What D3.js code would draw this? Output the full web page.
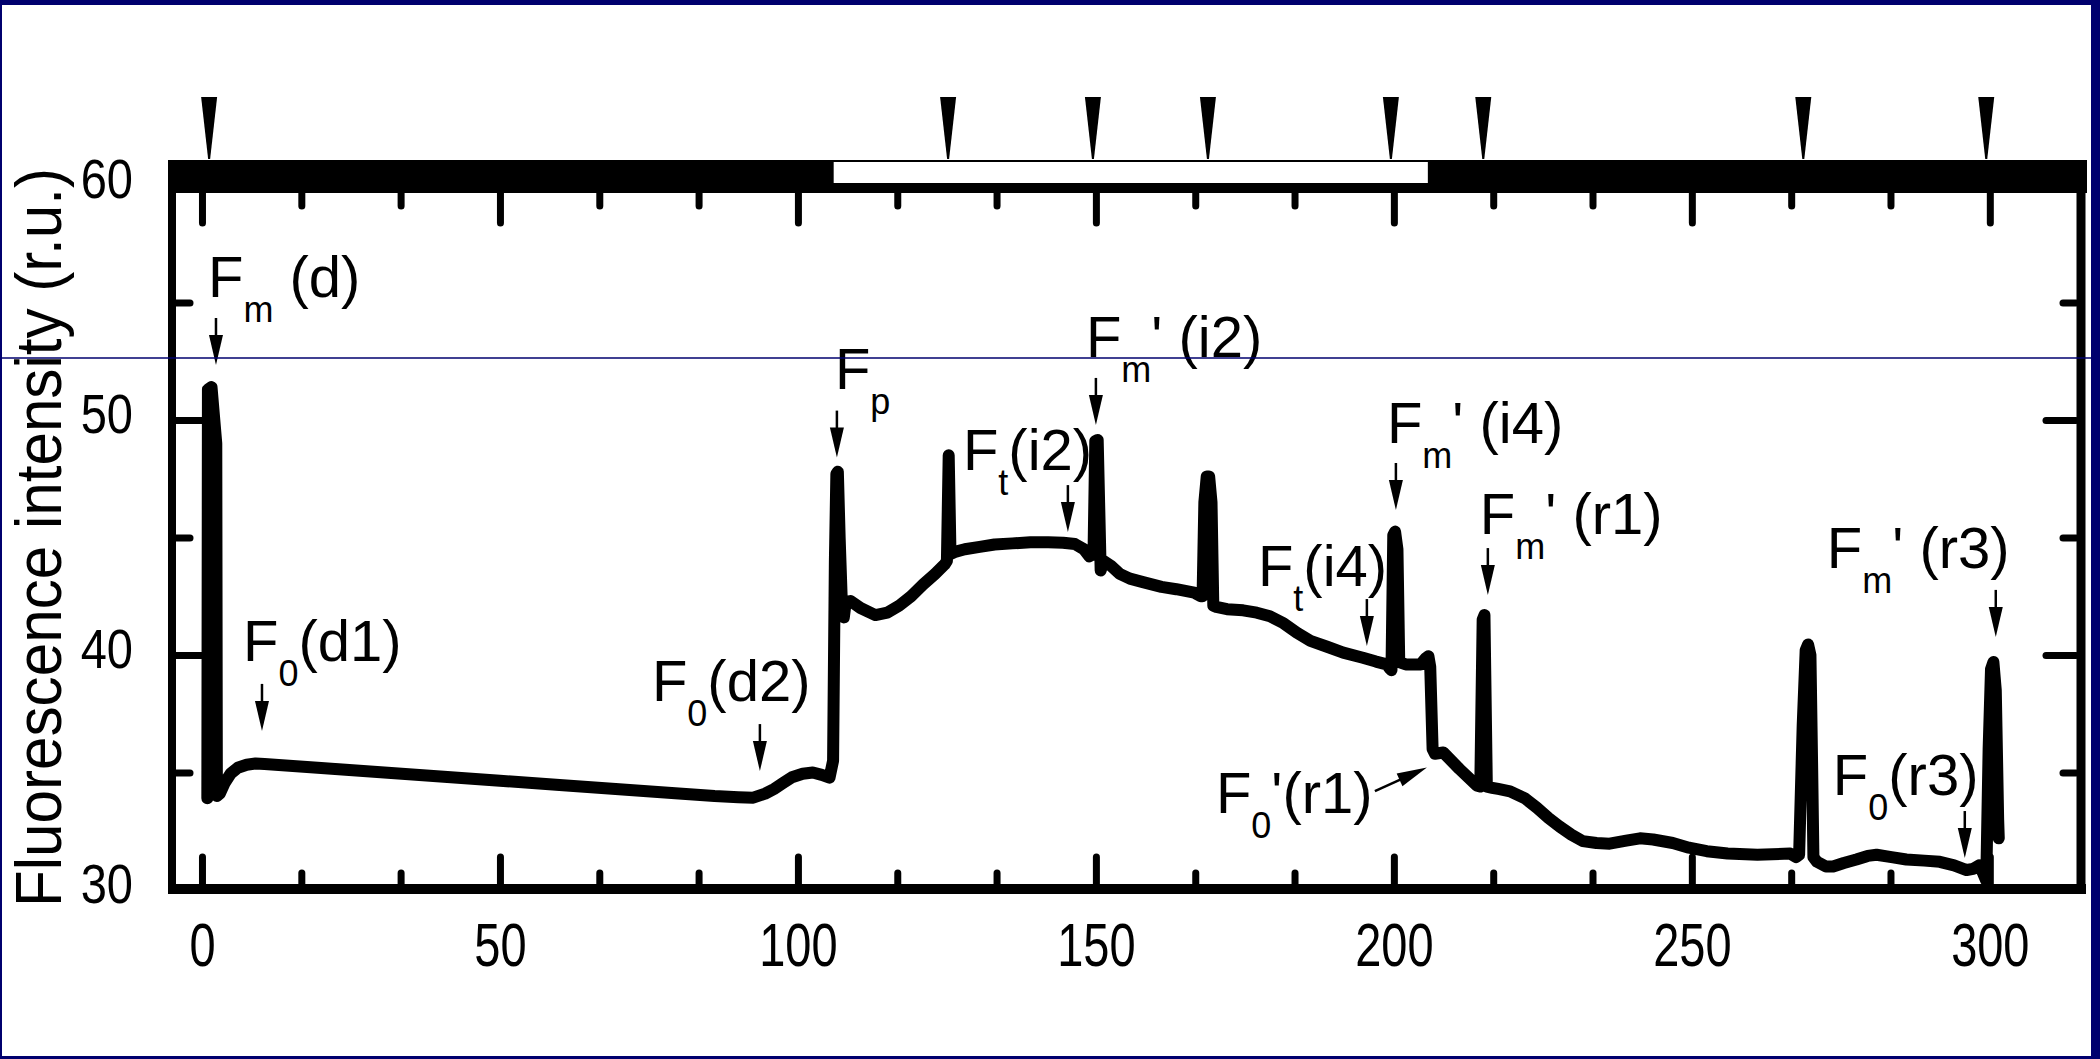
<!DOCTYPE html>
<html>
<head>
<meta charset="utf-8">
<script src="https://cdn.jsdelivr.net/npm/d3@7"></script>
<style>
  body { margin: 0; background: #fff; }
  svg { display: block; font-family: "Liberation Sans", Arial, sans-serif; }
  text { white-space: pre; }
</style>
</head>
<body>
<svg id="chart"></svg>
<script>
var width = 2100, height = 1059;
var navy = "#00006e";

// trace: time (s) and fluorescence (r.u.)
var time = [0.9, 1.0, 1.6, 2.4, 2.5, 3.0, 3.8, 4.8, 6.0, 7.5, 9.0, 10.5,
  20, 30, 40, 50, 60, 70, 80, 86, 90, 92.5, 94.5, 96, 97.5, 99, 100.8, 102.5, 104, 105.3,
  105.9, 106.2, 106.45, 106.7, 107.0, 107.4, 107.7, 108.0, 108.8, 110.5, 113, 115, 117, 119, 121, 123, 124.6,
  125.0, 125.3, 125.6, 126.5, 128, 130.5, 133, 136, 139, 142, 144.5, 146.5, 148, 148.9,
  149.6, 149.9, 150.3, 150.8, 151.3, 152.5, 154, 155.7, 157.9, 161, 163.5, 166.5, 167.6,
  167.9, 168.2, 168.6, 169.0, 169.4, 169.7, 170.2, 172, 174.7, 177, 179.2, 181.5, 183.7, 186, 188.8, 191.5, 194.8, 197, 198.8, 199.4,
  199.6, 199.9, 200.2, 200.6, 200.9, 202, 204.5, 205.3, 205.8, 206.1, 206.5, 206.9, 208.3, 211, 213.9,
  214.5, 214.9, 215.2, 215.6, 216.5, 217.5, 219.5, 222, 224, 226, 227.8, 229.8, 231.7, 234, 236.2, 239, 241.3, 243.5, 246.8, 249.5, 252.5, 256, 261, 266.5, 267.5,
  268.0, 268.6, 269.1, 269.5, 269.9, 270.2, 270.4, 271, 272.5, 273.7, 275.5, 277.6, 279.5, 281, 283.5, 286, 289, 291.6, 294, 296.1, 297.2, 298.2,
  298.9, 299.4, 299.8, 300.2, 300.6, 301.0, 301.4, 301.5];
var fluor = [33.9, 51.3, 51.4, 49.0, 34.0, 34.1, 34.55, 34.95, 35.2, 35.33, 35.38, 35.36,
  35.19, 35.01, 34.83, 34.65, 34.47, 34.29, 34.11, 34.0, 33.95, 33.93, 34.1, 34.3, 34.55, 34.8, 34.95, 35.0, 34.9, 34.78,
  35.5, 44.0, 47.7, 47.8, 45.0, 42.0, 41.6, 42.2, 42.3, 42.0, 41.7, 41.8, 42.1, 42.5, 43.0, 43.45, 43.85,
  44.0, 48.5, 44.3, 44.4, 44.5, 44.6, 44.7, 44.75, 44.8, 44.8, 44.78, 44.72, 44.5, 44.2,
  44.3, 49.1, 49.15, 43.6, 44.0, 43.8, 43.45, 43.25, 43.1, 42.9, 42.8, 42.65, 42.5,
  42.5, 46.5, 47.6, 47.6, 46.5, 42.1, 42.05, 41.95, 41.9, 41.8, 41.65, 41.35, 40.95, 40.6, 40.35, 40.1, 39.88, 39.72, 39.6, 39.4,
  39.35, 45.1, 45.25, 44.5, 39.7, 39.6, 39.6, 39.85, 39.95, 39.5, 36.0, 35.8, 35.85, 35.15, 34.45,
  34.4, 41.5, 41.7, 34.4, 34.35, 34.3, 34.2, 33.9, 33.5, 33.05, 32.7, 32.35, 32.08, 32.0, 31.97, 32.1, 32.2, 32.15, 32.0, 31.8, 31.65, 31.55, 31.5, 31.55, 31.4,
  31.5, 37.0, 40.2, 40.45, 40.0, 35.0, 31.4, 31.2, 31.0, 31.0, 31.15, 31.3, 31.45, 31.5, 31.4, 31.3, 31.25, 31.2, 31.05, 30.85, 30.9, 31.05,
  30.7, 30.4, 36.0, 39.4, 39.7, 38.5, 33.0, 32.2];

var xMajor = [0, 50, 100, 150, 200, 250, 300];
var xMinor = [16.67, 33.33, 66.67, 83.33, 116.67, 133.33, 166.67, 183.33, 216.67, 233.33, 266.67, 283.33];
var yMajor = [30, 40, 50, 60];
var yMinor = [35, 45, 55];

// saturating pulses (triangles above the bar) and the light period (white part of the bar)
var pulses = [1.2, 125.2, 149.5, 168.8, 199.5, 215.0, 268.7, 299.4];
var lightPeriod = [106, 205.7];

// annotations: F + subscript + rest, arrow tip in data units
var annMain = ["F", "F", "F", "F", "F", "F", "F", "F", "F", "F", "F", "F"];
var annSub = ["m", "0", "0", "p", "m", "t", "m", "t", "m", "0", "m", "0"];
var annRest = [" (d)", "(d1)", "(d2)", "", "' (i2)", "(i2)", "' (i4)", "(i4)", "' (r1)", "'(r1)", "' (r3)", "(r3)"];
var annTime = [2.35, 10.07, 93.62, 106.54, 150.0, 145.3, 200.34, 195.47, 215.77, 205.54, 301.0, 295.8];
var annValue = [52.34, 36.77, 35.06, 48.4, 49.79, 45.23, 46.17, 40.38, 42.55, 35.21, 40.77, 31.36];

// layout: text offset and arrow tail offset (px) from the arrow tip
var textOffset = [[-8, -68], [-19, -70], [-108, -70], [-2, -69], [-10, -68], [-105, -62],
  [-9, -67], [-109, -60], [-8, -61], [-211, 45], [-169, -69], [-132, -63]];
var arrowTail = [[0, -47], [0, -47], [0, -47], [0, -47], [0, -47], [0, -47],
  [0, -47], [0, -47], [0, -47], [-52, 23.5], [0, -47], [0, -47]];

var svg = d3.select("#chart")
  .attr("width", width)
  .attr("height", height);

svg.append("rect").attr("width", width).attr("height", height).attr("fill", "#fff");

var x = d3.scaleLinear().domain([-5.03, 315.3]).range([172, 2081]);
var y = d3.scaleLinear().domain([30, 60]).range([890, 185]);

// light / dark bar on top
svg.append("rect")
  .attr("x", 168).attr("y", 160)
  .attr("width", 2087 - 168).attr("height", 33)
  .attr("fill", "#000");
svg.append("rect")
  .attr("x", x(lightPeriod[0])).attr("y", 162)
  .attr("width", x(lightPeriod[1]) - x(lightPeriod[0])).attr("height", 21)
  .attr("fill", "#fff");

// pulse markers
svg.selectAll(".pulse")
  .data(pulses)
  .join("path")
  .attr("class", "pulse")
  .attr("fill", "#000")
  .attr("d", function(d) {
    var cx = x(d);
    return "M" + (cx - 8) + ",97L" + (cx + 8) + ",97L" + (cx + 1) + ",159L" + (cx - 1) + ",159Z";
  });

function styleTicks(g) {
  g.select(".domain").remove();
  g.attr("font-family", null).attr("font-size", null);
  g.selectAll(".tick line")
    .attr("stroke", "#000")
    .attr("stroke-width", 7)
    .attr("stroke-linecap", "round");
}

// bottom axis
var gb = svg.append("g").attr("transform", "translate(0," + 884 + ")")
  .call(d3.axisBottom(x).tickValues(xMajor).tickSize(-27).tickPadding(39).tickFormat(d3.format("d")));
styleTicks(gb);
gb.selectAll("text")
  .attr("fill", "#000")
  .attr("font-size", 61)
  .attr("transform", "scale(0.77,1)");
svg.append("g").attr("transform", "translate(0," + 884 + ")")
  .call(d3.axisBottom(x).tickValues(xMinor).tickSize(-11).tickFormat(""))
  .call(styleTicks);

// top axis
svg.append("g").attr("transform", "translate(0,193)")
  .call(d3.axisTop(x).tickValues(xMajor).tickSize(-30).tickFormat(""))
  .call(styleTicks);
svg.append("g").attr("transform", "translate(0,193)")
  .call(d3.axisTop(x).tickValues(xMinor).tickSize(-13).tickFormat(""))
  .call(styleTicks);

// left axis
var gl = svg.append("g").attr("transform", "translate(176,0)")
  .call(d3.axisLeft(y).tickValues(yMajor).tickSize(-26).tickPadding(43).tickFormat(d3.format("d")));
styleTicks(gl);
gl.selectAll("text")
  .attr("fill", "#000")
  .attr("font-size", 56)
  .attr("x", -43 / 0.84)
  .attr("dy", "0.23em")
  .attr("transform", "scale(0.84,1)");
svg.append("g").attr("transform", "translate(176,0)")
  .call(d3.axisLeft(y).tickValues(yMinor).tickSize(-14).tickFormat(""))
  .call(styleTicks);

// right axis
svg.append("g").attr("transform", "translate(2076,0)")
  .call(d3.axisRight(y).tickValues(yMajor).tickSize(-30).tickFormat(""))
  .call(styleTicks);
svg.append("g").attr("transform", "translate(2076,0)")
  .call(d3.axisRight(y).tickValues(yMinor).tickSize(-13).tickFormat(""))
  .call(styleTicks);

// frame lines
svg.append("line").attr("x1", 172).attr("x2", 172).attr("y1", 160).attr("y2", 894)
  .attr("stroke", "#000").attr("stroke-width", 8);
svg.append("line").attr("x1", 2081).attr("x2", 2081).attr("y1", 160).attr("y2", 894)
  .attr("stroke", "#000").attr("stroke-width", 9);
svg.append("line").attr("x1", 168).attr("x2", 2086).attr("y1", 889).attr("y2", 889)
  .attr("stroke", "#000").attr("stroke-width", 10);

// the trace
var points = time.map(function(t, i) { return [t, fluor[i]]; });
svg.append("path")
  .datum(points)
  .attr("fill", "none")
  .attr("stroke", "#000")
  .attr("stroke-width", 12)
  .attr("stroke-linejoin", "round")
  .attr("stroke-linecap", "round")
  .attr("d", d3.line()
    .x(function(d) { return x(d[0]); })
    .y(function(d) { return y(d[1]); }));

// annotations
annMain.forEach(function(m, i) {
  var tx = x(annTime[i]), ty = y(annValue[i]);
  var t = svg.append("text")
    .attr("x", tx + textOffset[i][0])
    .attr("y", ty + textOffset[i][1])
    .attr("font-size", 58)
    .attr("fill", "#000");
  t.append("tspan").text(m);
  t.append("tspan").attr("font-size", 36).attr("dy", 25).text(annSub[i]);
  if (annRest[i]) t.append("tspan").attr("dy", -25).text(annRest[i]);

  var ax = tx + arrowTail[i][0], ay = ty + arrowTail[i][1];
  var dx = tx - ax, dy = ty - ay, len = Math.sqrt(dx * dx + dy * dy);
  var ux = dx / len, uy = dy / len;
  var headLen = 30, headW = 7;
  var bx = tx - ux * headLen, by = ty - uy * headLen;
  svg.append("line")
    .attr("x1", ax).attr("y1", ay)
    .attr("x2", bx + ux * 2).attr("y2", by + uy * 2)
    .attr("stroke", "#000").attr("stroke-width", 2.5);
  svg.append("path")
    .attr("fill", "#000")
    .attr("d", "M" + tx + "," + ty +
      "L" + (bx - uy * headW) + "," + (by + ux * headW) +
      "L" + (bx + uy * headW) + "," + (by - ux * headW) + "Z");
});

// y axis title
svg.append("text")
  .attr("transform", "translate(61,537.5) rotate(-90)")
  .attr("text-anchor", "middle")
  .attr("font-size", 64)
  .attr("textLength", 739)
  .attr("lengthAdjust", "spacingAndGlyphs")
  .attr("fill", "#000")
  .text("Fluorescence intensity (r.u.)");

// thin navy rule across the slide and the slide border
svg.append("line").attr("x1", 0).attr("x2", width).attr("y1", 358).attr("y2", 358)
  .attr("stroke", navy).attr("stroke-width", 1.5);
svg.append("rect").attr("x", 0).attr("y", 0).attr("width", width).attr("height", 5).attr("fill", navy);
svg.append("rect").attr("x", 0).attr("y", 0).attr("width", 2).attr("height", height).attr("fill", navy);
svg.append("rect").attr("x", 2091).attr("y", 0).attr("width", 9).attr("height", height).attr("fill", navy);
svg.append("rect").attr("x", 0).attr("y", height - 3).attr("width", width).attr("height", 3).attr("fill", navy);
</script>
</body>
</html>
